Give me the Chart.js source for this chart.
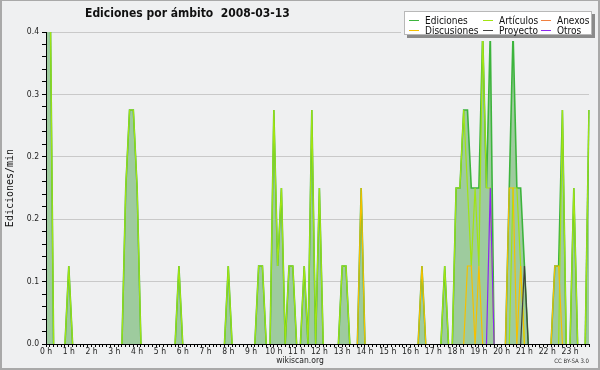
<!DOCTYPE html>
<html>
<head>
<meta charset="utf-8">
<script src="https://cdn.jsdelivr.net/npm/chart.js@4.4.1/dist/chart.umd.min.js"></script>
<style>
  html, body { margin: 0; padding: 0; background: #eff0f1; }
  #wrap { position: relative; width: 600px; height: 370px; overflow: hidden; background: #eff0f1; }
  #c { position: absolute; left: 0; top: 0; }
  #frame { position: absolute; left: 0; top: 0; width: 600px; height: 370px; box-sizing: border-box;
           border: 2px solid #a9a9a9; border-top-width: 1px; pointer-events: none; }
  #title { position: absolute; left: 85px; top: 6px; white-space: pre; color: #111;
           font: bold 12px "DejaVu Sans Condensed", "DejaVu Sans", sans-serif; font-stretch: condensed; }
  #legmask { position: absolute; left: 401px; top: 8px; width: 197px; height: 33px; background: #eff0f1; }
  #legend { position: absolute; left: 404px; top: 11px; width: 186px; height: 22px; background: #fff;
            border: 1px solid #b8b8b8; box-shadow: 3px 3px 0 #8a8a8a; }
  .li { position: absolute; height: 10px; line-height: 10px; white-space: nowrap; color: #111;
        font: 10px "DejaVu Sans Condensed", "DejaVu Sans", sans-serif; font-stretch: condensed; }
  .sw { position: absolute; top: 5px; width: 10px; height: 1px; }
  #foot1 { position: absolute; left: 200px; width: 200px; top: 355px; text-align: center; color: #222;
           font: 8.5px "DejaVu Sans Condensed", "DejaVu Sans", sans-serif; font-stretch: condensed; }
  #foot2 { position: absolute; right: 11px; top: 357px; color: #333;
           font: 6px "DejaVu Sans Condensed", "DejaVu Sans", sans-serif; font-stretch: condensed; }
</style>
</head>
<body>
<div id="wrap">
  <canvas id="c" width="600" height="370"></canvas>
  <div id="title">Ediciones por ámbito  2008-03-13</div>
  <div id="legmask"></div>
  <div id="legend"></div>
  <div id="foot1">wikiscan.org</div>
  <div id="foot2">CC BY-SA 3.0</div>
  <div id="frame"></div>
</div>
<script>
// ---- Data: edits per minute, one value per 10-minute slot (6 per hour) ----
const hourLabels = ['0 h','1 h','2 h','3 h','4 h','5 h','6 h','7 h','8 h','9 h','10 h','11 h',
                    '12 h','13 h','14 h','15 h','16 h','17 h','18 h','19 h','20 h','21 h','22 h','23 h'];
const slotMinutes = ['00','10','20','30','40','50'];

const ediciones = [
  0.5,0.5,0,0,0,0,      0.1,0,0,0,0,0,        0,0,0,0,0,0,          0,0,0,0.2,0.3,0.3,
  0.2,0,0,0,0,0,        0,0,0,0,0,0.1,        0,0,0,0,0,0,          0,0,0,0,0,0,
  0.1,0,0,0,0,0,        0,0,0.1,0.1,0,0,      0.3,0.1,0.2,0,0.1,0.1,  0,0,0.1,0,0.3,0,
  0.2,0,0,0,0,0,        0.1,0.1,0,0,0,0.2,    0,0,0,0,0,0,          0,0,0,0,0,0,
  0,0,0,0.1,0,0,        0,0,0,0.1,0,0,        0.2,0.2,0.3,0.3,0.2,0.2, 0.2,0.4,0.2,0.4,0,0,
  0,0,0.2,0.4,0.2,0.2,  0.1,0,0,0,0,0,        0,0,0.1,0.1,0.3,0,    0,0.2,0,0,0,0.3
];
const articulos = [
  0.5,0.5,0,0,0,0,      0.1,0,0,0,0,0,        0,0,0,0,0,0,          0,0,0,0.2,0.3,0.3,
  0.2,0,0,0,0,0,        0,0,0,0,0,0.1,        0,0,0,0,0,0,          0,0,0,0,0,0,
  0.1,0,0,0,0,0,        0,0,0.1,0.1,0,0,      0.3,0.1,0.2,0,0.1,0.1,  0,0,0.1,0,0.3,0,
  0.2,0,0,0,0,0,        0.1,0.1,0,0,0,0,      0,0,0,0,0,0,          0,0,0,0,0,0,
  0,0,0,0,0,0,          0,0,0,0.1,0,0,        0.2,0.2,0.3,0.2,0.1,0.2, 0.1,0.4,0.2,0.2,0,0,
  0,0,0,0.2,0.2,0.1,    0,0,0,0,0,0,          0,0,0,0,0.3,0,        0,0.2,0,0,0,0.3
];
const anexos = [
  0,0,0,0,0,0, 0,0,0,0,0,0, 0,0,0,0,0,0, 0,0,0,0,0,0,
  0,0,0,0,0,0, 0,0,0,0,0,0, 0,0,0,0,0,0, 0,0,0,0,0,0,
  0,0,0,0,0,0, 0,0,0,0,0,0, 0,0,0,0,0,0, 0,0,0,0,0,0,
  0,0,0,0,0,0, 0,0,0,0,0,0, 0,0,0,0,0,0, 0,0,0,0,0,0,
  0,0,0,0,0,0, 0,0,0,0,0,0, 0,0,0,0,0,0, 0,0,0,0,0,0,
  0,0,0,0,0,0, 0,0,0,0,0,0, 0,0,0,0,0,0, 0,0,0,0,0,0
];
const discusiones = [
  0,0,0,0,0,0, 0,0,0,0,0,0, 0,0,0,0,0,0, 0,0,0,0,0,0,
  0,0,0,0,0,0, 0,0,0,0,0,0, 0,0,0,0,0,0, 0,0,0,0,0,0,
  0,0,0,0,0,0, 0,0,0,0,0,0, 0,0,0,0,0,0, 0,0,0,0,0,0,
  0,0,0,0,0,0, 0,0,0,0,0,0.2, 0,0,0,0,0,0, 0,0,0,0,0,0,
  0,0,0,0.1,0,0, 0,0,0,0,0,0, 0,0,0,0.1,0.1,0, 0.1,0,0,0,0,0,
  0,0,0.2,0.2,0,0.1, 0,0,0,0,0,0, 0,0,0.1,0.1,0,0, 0,0,0,0,0,0
];
const proyecto = [
  0,0,0,0,0,0, 0,0,0,0,0,0, 0,0,0,0,0,0, 0,0,0,0,0,0,
  0,0,0,0,0,0, 0,0,0,0,0,0, 0,0,0,0,0,0, 0,0,0,0,0,0,
  0,0,0,0,0,0, 0,0,0,0,0,0, 0,0,0,0,0,0, 0,0,0,0,0,0,
  0,0,0,0,0,0, 0,0,0,0,0,0, 0,0,0,0,0,0, 0,0,0,0,0,0,
  0,0,0,0,0,0, 0,0,0,0,0,0, 0,0,0,0,0,0, 0,0,0,0,0,0,
  0,0,0,0,0,0, 0.1,0,0,0,0,0, 0,0,0,0,0,0, 0,0,0,0,0,0
];
const otros = [
  0,0,0,0,0,0, 0,0,0,0,0,0, 0,0,0,0,0,0, 0,0,0,0,0,0,
  0,0,0,0,0,0, 0,0,0,0,0,0, 0,0,0,0,0,0, 0,0,0,0,0,0,
  0,0,0,0,0,0, 0,0,0,0,0,0, 0,0,0,0,0,0, 0,0,0,0,0,0,
  0,0,0,0,0,0, 0,0,0,0,0,0, 0,0,0,0,0,0, 0,0,0,0,0,0,
  0,0,0,0,0,0, 0,0,0,0,0,0, 0,0,0,0,0,0, 0,0,0,0.2,0,0,
  0,0,0,0,0,0, 0,0,0,0,0,0, 0,0,0,0,0,0, 0,0,0,0,0,0
];
const yMax = 0.4;
const yMinorStep = 0.016;   // 5 minor steps per labelled gridline

// ---- Categories: one slot every 10 minutes ----
const slots = [];
hourLabels.forEach((h, hi) => slotMinutes.forEach(m => slots.push(hi + ':' + m)));

const series = [
  { label: 'Ediciones',   data: ediciones,   color: '#3cb43c', order: 6, fill: true },
  { label: 'Artículos',   data: articulos,   color: '#a2e412', order: 5 },
  { label: 'Anexos',      data: anexos,      color: '#f08040', order: 4 },
  { label: 'Discusiones', data: discusiones, color: '#f5c000', order: 3 },
  { label: 'Proyecto',    data: proyecto,    color: '#404040', order: 2 },
  { label: 'Otros',       data: otros,       color: '#8c28f0', order: 1 }
];

const hideFlatZero = {
  borderColor: ctx => (ctx.p0.parsed.y === 0 && ctx.p1.parsed.y === 0) ? 'rgba(0,0,0,0)' : undefined
};

const datasets = series.map(s => ({
  label: s.label,
  data: s.data,
  borderColor: s.color,
  borderWidth: s.fill ? 1.6 : 1.2,
  backgroundColor: s.fill ? '#9ecb9e' : 'rgba(0,0,0,0)',
  fill: s.fill ? 'origin' : false,
  order: s.order,
  pointRadius: 0,
  tension: 0,
  segment: hideFlatZero
}));

const FONT = '"DejaVu Sans Condensed", "DejaVu Sans", sans-serif';

new Chart(document.getElementById('c'), {
  type: 'line',
  data: { labels: slots, datasets },
  options: {
    responsive: false,
    animation: false,
    devicePixelRatio: 1,
    layout: { padding: { left: 0, right: 11, top: 32, bottom: 0 } },
    plugins: {
      legend: { display: false },
      tooltip: { enabled: false },
      filler: { drawTime: 'beforeDatasetsDraw' }
    },
    scales: {
      x: {
        type: 'category',
        offset: false,
        afterFit: s => { s.height = 26; },
        border: { display: true, color: '#000', width: 1, z: 1 },
        grid: { display: true, drawOnChartArea: false, drawTicks: true, tickLength: 3,
                tickColor: '#000', offset: false },
        ticks: {
          autoSkip: false, maxRotation: 0, minRotation: 0, padding: 0,
          color: '#222', font: { family: FONT, size: 8.5 },
          callback: (v, i) => (i % slotMinutes.length === 0) ? hourLabels[i / slotMinutes.length] : ''
        }
      },
      y: {
        type: 'linear',
        min: 0, max: yMax,
        afterFit: s => { s.width = 46; },
        afterBuildTicks: s => {
          const t = [];
          for (let k = 0; k * yMinorStep <= yMax + 1e-9; k++) t.push({ value: k * yMinorStep });
          s.ticks = t;
        },
        border: { display: true, color: '#000', width: 1, z: 1 },
        grid: {
          color: ctx => (ctx.index % 5 === 0) ? '#c9c9c9' : 'rgba(0,0,0,0)',
          tickColor: '#000', tickLength: 4, lineWidth: 1
        },
        ticks: {
          padding: 3, color: '#222', font: { family: FONT, size: 8.5 },
          autoSkip: false,
          callback: (v, i) => (i % 5 === 0) ? Number(v).toFixed(1) : ''
        },
        title: {
          display: true, text: 'Ediciones/min', color: '#111',
          font: { family: '"DejaVu Sans Mono", monospace', size: 10 },
          padding: { top: 4, bottom: 0 }
        }
      }
    }
  }
});

// ---- Legend (overlaid on plot, like the original) ----
const legendPos = {
  'Ediciones':   [4, 3],   'Artículos': [78, 3],   'Anexos': [136, 3],
  'Discusiones': [4, 13],  'Proyecto':  [78, 13],  'Otros':  [136, 13]
};
const leg = document.getElementById('legend');
series.forEach(s => {
  const p = legendPos[s.label];
  const d = document.createElement('div');
  d.className = 'li';
  d.style.left = p[0] + 'px';
  d.style.top = p[1] + 'px';
  d.style.paddingLeft = '16px';
  const sw = document.createElement('span');
  sw.className = 'sw';
  sw.style.left = '0px';
  sw.style.background = s.color;
  d.appendChild(sw);
  d.appendChild(document.createTextNode(s.label));
  leg.appendChild(d);
});
</script>
</body>
</html>
